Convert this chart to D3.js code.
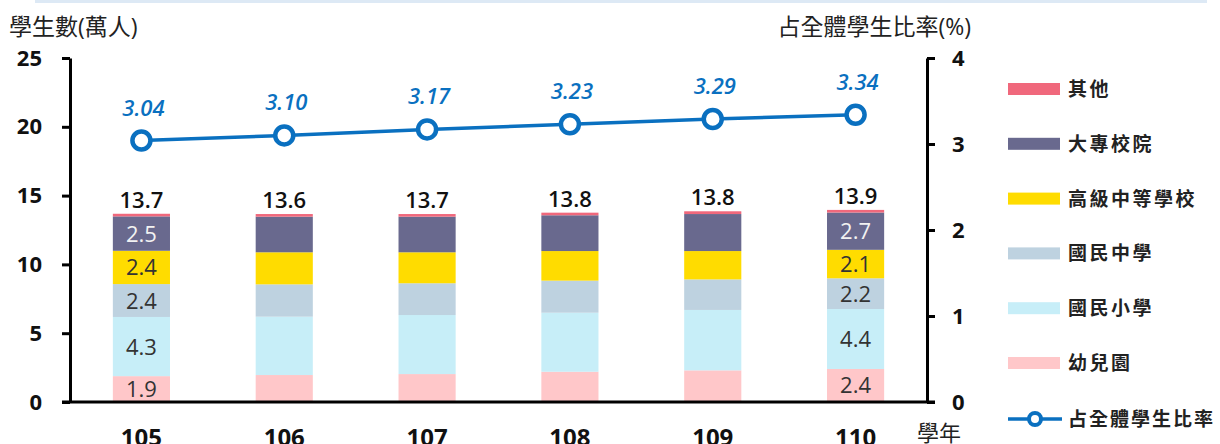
<!DOCTYPE html>
<html>
<head>
<meta charset="utf-8">
<script src="https://cdn.jsdelivr.net/npm/d3@7"></script>
<style>
body { margin: 0; background: #fff; }
text { font-family: "Open Sans", "Noto Sans CJK TC", sans-serif; }
</style>
</head>
<body>
<div id="chart-area"></div>
<script>
var years = ["105", "106", "107", "108", "109", "110"];
var kinder = [1.88, 1.96, 2.03, 2.20, 2.30, 2.40];
var primary = [4.30, 4.24, 4.29, 4.29, 4.39, 4.36];
var junior = [2.39, 2.35, 2.31, 2.33, 2.22, 2.23];
var senior = [2.42, 2.33, 2.25, 2.15, 2.06, 2.07];
var college = [2.50, 2.59, 2.59, 2.60, 2.69, 2.71];
var other = [0.19, 0.19, 0.19, 0.19, 0.20, 0.19];
var totals = ["13.7", "13.6", "13.7", "13.8", "13.8", "13.9"];
var ratio = [3.04, 3.10, 3.17, 3.23, 3.29, 3.34];
var ratioLabels = ["3.04", "3.10", "3.17", "3.23", "3.29", "3.34"];
var leftTicks = [0, 5, 10, 15, 20, 25];
var rightTicks = [0, 1, 2, 3, 4];

var seriesNames = ["幼兒園", "國民小學", "國民中學", "高級中等學校", "大專校院", "其他"];
var seriesData = [kinder, primary, junior, senior, college, other];
var colors = ["#ffc7c9", "#c7eef8", "#bed2e0", "#ffdc00", "#69698e", "#f0687c"];
// which bars get segment labels
var labelled = ["105", "110"];

var width = 1220, height = 444;

var svg = d3.select("#chart-area")
	.append("svg")
	.attr("width", width)
	.attr("height", height);

// light strip on top
svg.append("rect")
	.attr("x", 35).attr("y", 0)
	.attr("width", 1172).attr("height", 3)
	.attr("fill", "#dde9f5");

var x = d3.scaleBand().domain(years).range([70, 927]).paddingInner(0.6).paddingOuter(0.3);
var y = d3.scaleLinear().domain([0, 25]).range([402, 58]);
var y2 = d3.scaleLinear().domain([0, 4]).range([402, 58]);

var table = years.map(function(yr, i) {
	var row = { year: yr };
	seriesNames.forEach(function(s, j) { row[s] = seriesData[j][i]; });
	return row;
});

var stack = d3.stack().keys(seriesNames)(table);

var layers = svg.selectAll("g.layer")
	.data(stack)
	.enter().append("g")
	.attr("class", "layer")
	.attr("fill", function(d, i) { return colors[i]; });

layers.selectAll("rect")
	.data(function(d) { return d; })
	.enter().append("rect")
	.attr("x", function(d) { return x(d.data.year); })
	.attr("width", x.bandwidth())
	.attr("y", function(d) { return y(d[1]); })
	.attr("height", function(d) { return y(d[0]) - y(d[1]); });

// segment labels (first five series, on the labelled bars)
stack.forEach(function(layer, j) {
	if (j > 4) return;
	layer.forEach(function(d) {
		if (labelled.indexOf(d.data.year) < 0) return;
		svg.append("text")
			.attr("x", x(d.data.year) + x.bandwidth() / 2)
			.attr("y", (y(d[0]) + y(d[1])) / 2 + 8)
			.attr("text-anchor", "middle")
			.attr("font-size", "22px")
			.attr("fill", j == 4 ? "#f2f2f2" : "#333")
			.text(d3.format(".1f")(d.data[seriesNames[j]]));
	});
});

// totals
var topLayer = stack[stack.length - 1];
topLayer.forEach(function(d, i) {
	svg.append("text")
		.attr("x", x(d.data.year) + x.bandwidth() / 2)
		.attr("y", y(d[1]) - 6)
		.attr("text-anchor", "middle")
		.attr("font-size", "22px")
		.attr("font-weight", "600")
		.attr("fill", "#111")
		.text(totals[i]);
});

// axes
var leftAxis = svg.append("g")
	.attr("transform", "translate(70,0)")
	.call(d3.axisLeft(y).tickValues(leftTicks).tickSize(8).tickSizeOuter(0).tickPadding(20));
var rightAxis = svg.append("g")
	.attr("transform", "translate(927,0)")
	.call(d3.axisRight(y2).tickValues(rightTicks).tickFormat(d3.format("d"))
		.tickSize(8).tickSizeOuter(0).tickPadding(17));

[leftAxis, rightAxis].forEach(function(ax) {
	ax.select(".domain").attr("stroke", "#000").attr("stroke-width", 3);
	ax.selectAll(".tick line").attr("stroke", "#000").attr("stroke-width", 3);
	ax.selectAll(".tick text")
		.attr("font-size", "22px")
		.attr("font-weight", "bold")
		.attr("fill", "#111")
		.style("font-family", "'Open Sans', sans-serif");
});

svg.append("line")
	.attr("x1", 62).attr("x2", 935)
	.attr("y1", y(0)).attr("y2", y(0))
	.attr("stroke", "#000").attr("stroke-width", 3);

years.forEach(function(yr) {
	svg.append("text")
		.attr("x", x(yr) + x.bandwidth() / 2)
		.attr("y", 446)
		.attr("text-anchor", "middle")
		.attr("font-size", "24px")
		.attr("font-weight", "bold")
		.attr("fill", "#111")
		.text(yr);
});

svg.append("text")
	.attr("x", 917).attr("y", 441)
	.attr("font-size", "22px")
	.attr("fill", "#222")
	.text("學年");

svg.append("text")
	.attr("x", 9).attr("y", 35)
	.attr("font-size", "23px")
	.attr("fill", "#222")
	.text("學生數(萬人)");

svg.append("text")
	.attr("x", 971).attr("y", 35)
	.attr("text-anchor", "end")
	.attr("font-size", "23px")
	.attr("fill", "#222")
	.text("占全體學生比率(%)");

// ratio line
var lineColor = "#0a70c0";
var line = d3.line()
	.x(function(d, i) { return x(years[i]) + x.bandwidth() / 2; })
	.y(function(d) { return y2(d); });

svg.append("path")
	.datum(ratio)
	.attr("d", line)
	.attr("fill", "none")
	.attr("stroke", lineColor)
	.attr("stroke-width", 3.5);

svg.selectAll("circle.pt")
	.data(ratio)
	.enter().append("circle")
	.attr("class", "pt")
	.attr("cx", function(d, i) { return x(years[i]) + x.bandwidth() / 2; })
	.attr("cy", function(d) { return y2(d); })
	.attr("r", 9)
	.attr("fill", "#fff")
	.attr("stroke", lineColor)
	.attr("stroke-width", 4.5);

svg.selectAll("text.ratio")
	.data(ratio)
	.enter().append("text")
	.attr("class", "ratio")
	.attr("x", function(d, i) { return x(years[i]) + x.bandwidth() / 2 + 2; })
	.attr("y", function(d) { return y2(d) - 25; })
	.attr("text-anchor", "middle")
	.attr("font-size", "22px")
	.attr("font-style", "italic")
	.attr("font-weight", "600")
	.attr("fill", lineColor)
	.text(function(d, i) { return ratioLabels[i]; });

// legend
var legendNames = seriesNames.slice().reverse();
var legendColors = colors.slice().reverse();
legendNames.forEach(function(name, i) {
	var row = svg.append("g")
		.attr("transform", "translate(1008," + (89 + i * 54.8) + ")");
	row.append("rect")
		.attr("x", 0).attr("y", -6)
		.attr("width", 52).attr("height", 12)
		.attr("fill", legendColors[i]);
	row.append("text")
		.attr("x", 60).attr("y", 7)
		.attr("font-size", "19px")
		.attr("font-weight", "bold")
		.attr("letter-spacing", "2.5px")
		.attr("fill", "#222")
		.text(name);
});

var lineRow = svg.append("g").attr("transform", "translate(1008,419)");
lineRow.append("line")
	.attr("x1", 0).attr("x2", 54)
	.attr("stroke", lineColor).attr("stroke-width", 3.5);
lineRow.append("circle")
	.attr("cx", 27).attr("r", 6)
	.attr("fill", "#fff")
	.attr("stroke", lineColor).attr("stroke-width", 4);
lineRow.append("text")
	.attr("x", 60).attr("y", 7)
	.attr("font-size", "19px")
	.attr("font-weight", "bold")
	.attr("letter-spacing", "2px")
	.attr("fill", "#222")
	.text("占全體學生比率");
</script>
</body>
</html>
